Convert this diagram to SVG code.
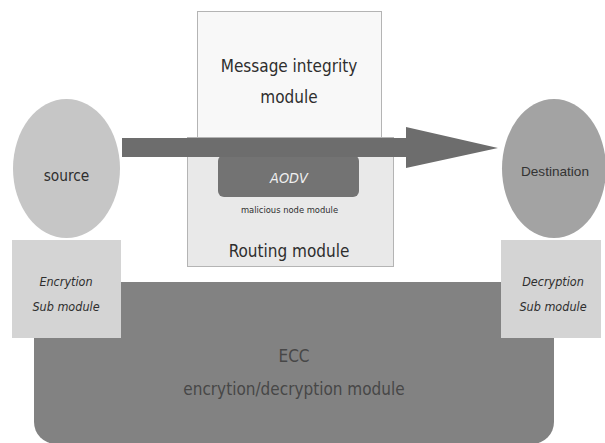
<svg xmlns="http://www.w3.org/2000/svg" width="605" height="443" viewBox="0 0 605 443">
<style>
.t{font-family:"DejaVu Sans Condensed","DejaVu Sans",sans-serif;fill:#2e2e2e;text-anchor:middle}
.it{font-style:italic}
.box{stroke:#b4b4b4;stroke-width:1}
</style>
<rect width="605" height="443" fill="#ffffff"/>
<g id="ecc">
<rect x="34" y="282" width="520" height="162" rx="22" fill="#828282"/>
<text class="t" x="294" y="362" font-size="17" fill="#444" style="fill:#474747">ECC</text>
<text class="t" x="294" y="395" font-size="17" style="fill:#474747">encrytion/decryption module</text>
</g>
<g id="encryption">
<rect x="12" y="240" width="109" height="98" fill="#d4d4d4"/>
<text class="t it" x="66" y="286" font-size="12.5">Encrytion</text>
<text class="t it" x="66" y="310.5" font-size="12.5">Sub module</text>
</g>
<g id="decryption">
<rect x="501" y="240" width="100" height="98" fill="#d4d4d4"/>
<text class="t it" x="553" y="286" font-size="12.5">Decryption</text>
<text class="t it" x="553" y="310.5" font-size="12.5">Sub module</text>
</g>
<g id="source">
<ellipse cx="66.5" cy="168.5" rx="53.5" ry="69.5" fill="#c6c6c6"/>
<text class="t" x="66.5" y="180.5" font-size="15.3">source</text>
</g>
<g id="destination">
<ellipse cx="554" cy="168.5" rx="52" ry="69.5" fill="#a3a3a3"/>
<text x="555" y="176" font-size="13.6" font-family="Liberation Sans, Arial, sans-serif" fill="#333" text-anchor="middle">Destination</text>
</g>
<g id="routing">
<rect class="box" x="187.5" y="137.5" width="206" height="129" fill="#e9e9e9"/>
<text class="t" x="289" y="256.5" font-size="17">Routing module</text>
<text class="t" x="289.5" y="212.5" font-size="9.3">malicious node module</text>
</g>
<g id="integrity">
<rect class="box" x="197.5" y="11.5" width="184" height="126" fill="#f8f8f8"/>
<text class="t" x="289" y="71.5" font-size="17">Message integrity</text>
<text class="t" x="289" y="103.3" font-size="17">module</text>
</g>
<g id="aodv">
<rect x="218" y="155" width="141" height="42" rx="6" fill="#737373"/>
<text class="t it" x="289" y="182.5" font-size="14.4" style="fill:#f0f0f0">AODV</text>
</g>
<g id="connectors">
<polygon points="122,138 406,138 406,127 498,148 406,168 406,157 122,157" fill="#6d6d6d"/>
</g>
</svg>
